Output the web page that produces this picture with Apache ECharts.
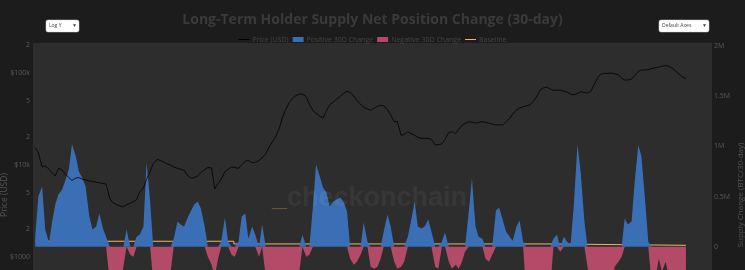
<!DOCTYPE html>
<html><head><meta charset="utf-8">
<script src="https://cdn.jsdelivr.net/npm/echarts@6/dist/echarts.min.js"></script>
<style>
html,body{margin:0;padding:0;background:#1c1c1c;width:745px;height:270px;overflow:hidden;}
#wrap{width:745px;height:270px;overflow:hidden;}
#chart{width:745px;height:380px;}
</style></head><body><div id="wrap"><div id="chart"></div></div>
<script>
// first half-month sample is 2017-12-01, then every 1st and 15th of the month
const startYear = 2017, startMonth = 12;
const priceUSD = [
15500,13500,9500,9800,9000,8200,7600,9200,8800,8000,
7300,6800,7200,7300,7000,6900,6700,6600,6500,6400,
6300,6200,4300,3900,3700,3600,3500,3700,3850,4000,
4200,5100,5600,7000,8500,10400,11500,11200,10800,10300,
10000,9500,9200,9000,8700,7700,7200,7300,7600,8300,
8900,9400,9300,5500,6300,7000,8500,9000,9500,9400,
9200,10000,11000,11200,10600,10700,11200,12000,13200,15500,
18000,20500,25000,33000,41000,48000,54000,57000,59000,59000,
55500,46000,39000,36500,34000,32200,39000,45000,48500,52000,
55500,60000,63500,61500,56000,50000,46000,42500,40500,39500,
41500,43500,44500,44000,40000,35000,29600,29600,21000,21500,
23000,22000,21000,20000,19500,19500,19500,19000,16500,16600,
17000,19000,22500,23000,22000,24500,27000,28300,29500,29200,
28500,29000,29600,29000,28500,27800,27300,27300,27300,29500,
32000,36000,39500,41500,43000,44000,45000,49000,56000,65000,
69000,70500,67000,65000,65000,65000,63500,62000,59000,58000,
60000,62500,61500,60500,64000,75000,90000,98000,99000,99000,
100000,98000,96000,88000,84000,84000,86000,94000,104000,108000,
108000,109000,112000,114000,116000,118000,121000,118000,112000,106000,
97000,91000,87000];
const supplyChangeM = [
0.1,0.5,0.6,0.17,0.04,0.25,0.42,0.52,0.57,0.66,
0.77,1.02,0.9,0.75,0.68,0.6,0.3,0.17,0.2,0.33,
0.18,0.1,-0.35,-0.5,-0.5,-0.4,-0.2,0.17,-0.08,-0.1,
0.1,0.12,0.2,0.84,0.45,-0.35,-0.55,-0.6,-0.55,-0.45,
-0.25,0.08,0.25,0.22,0.2,0.28,0.36,0.42,0.45,0.38,
0.2,-0.1,-0.18,-0.3,-0.12,0.05,0.29,0.05,-0.08,-0.1,
0.05,0.3,0.33,0.08,0.2,0.12,-0.1,0.22,-0.3,-0.5,
-0.6,-0.6,-0.55,-0.6,-0.5,-0.4,-0.5,-0.45,-0.25,0.12,
-0.1,-0.08,0.4,0.82,0.7,0.59,0.54,0.4,0.45,0.47,
0.49,0.45,0.35,-0.12,-0.18,-0.15,-0.08,0.24,0.05,-0.2,
-0.22,-0.2,-0.12,0.15,0.32,0.2,-0.15,-0.22,-0.2,-0.15,
0.1,0.25,0.45,0.2,0.18,0.2,0.27,0.15,-0.2,-0.22,
0.05,0.14,-0.15,-0.22,-0.18,-0.22,-0.15,-0.05,0.35,0.68,
0.2,0.1,0.08,-0.12,-0.15,-0.08,0.36,0.39,0.26,0.15,
0.1,0.06,0.2,0.26,0.05,-0.5,-0.6,-0.6,-0.55,-0.6,
-0.55,-0.5,-0.4,0.08,0.12,-0.05,0.1,0.05,0.02,0.4,
1.02,0.75,0.25,-0.2,-0.5,-0.6,-0.6,-0.55,-0.6,-0.4,
-0.5,-0.2,-0.15,-0.1,0.28,0.22,0.25,0.65,1.01,0.9,
0.45,0.05,-0.4,-0.35,-0.12,-0.25,-0.15,-0.3,-0.5,-0.45,
-0.5,-0.55,-0.5];
const baselineDates = ['2017-12-01','2020-05-11','2024-04-20','2025-12-01'];
const baselineM = [0.054,0.027,0.0135,0.0135];
const xRange = ['2017-11-21','2026-03-28'];
const priceTickValues = [1000,2000,5000,10000,20000,50000,100000,200000];
const priceTickLabels = ['$1000','2','5','$10k','2','5','$100k','2'];
const supplyTickValues = [0,0.5,1,1.5,2];
const supplyTickLabels = ['0','0.5M','1M','1.5M','2M'];
const seriesNames = ['Price (USD)','Positive 30D Change','Negative 30D Change','Baseline'];

const dates = [];
for (let k = 0; dates.length < priceUSD.length; k++) {
  const m = startMonth - 1 + Math.floor(k / 2);
  const y = startYear + Math.floor(m / 12);
  const mm = String(m % 12 + 1).padStart(2, '0');
  dates.push(y + '-' + mm + '-' + (k % 2 ? '15' : '01'));
}
const ts = d => Date.parse(d + 'T00:00:00Z');
function lookup(vals, labels, v) {
  for (let i = 0; i < vals.length; i++) if (Math.abs(vals[i] - v) <= Math.abs(vals[i]) * 1e-6 + 1e-9) return labels[i];
  return '';
}
const FONT = '"Open Sans", "Liberation Sans", sans-serif';
const LINE_ICON = 'path://M0,0L0.01,0M0,2.1H11V2.9H0ZM11,5L10.99,5';
const chart = echarts.init(document.getElementById('chart'), null, {renderer: 'canvas'});
chart.setOption({
  backgroundColor: '#1c1c1c',
  animation: false,
  title: {
    text: 'Long-Term Holder Supply Net Position Change (30-day)',
    left: 'center', top: 8,
    textStyle: {color: '#3a3a3a', fontSize: 14, fontWeight: 'bold', fontFamily: FONT}
  },
  legend: {
    top: 31, left: 'center', itemGap: 4, itemWidth: 11, itemHeight: 5,
    textStyle: {color: '#454545', fontSize: 7, fontFamily: FONT, padding: [0, 0, 0, -2]},
    data: [
      {name: seriesNames[0], icon: LINE_ICON, itemStyle: {color: '#000'}},
      {name: seriesNames[1], icon: 'rect'},
      {name: seriesNames[2], icon: 'rect'},
      {name: seriesNames[3], icon: LINE_ICON, itemStyle: {color: '#f2b56b'}}
    ]
  },
  grid: {left: 33, right: 33, top: 43, bottom: 33, show: true, backgroundColor: '#2d2d2d', borderWidth: 0,
         containLabel: false, outerBoundsMode: 'none'},
  xAxis: {type: 'value', min: ts(xRange[0]), max: ts(xRange[1]), show: false, scale: true},
  yAxis: [
    {type: 'log', logBase: 10, min: 105, max: 212000, position: 'left',
     axisLine: {show: false}, axisTick: {show: false}, splitLine: {show: false},
     axisLabel: {customValues: priceTickValues, formatter: v => lookup(priceTickValues, priceTickLabels, v),
       color: '#5a5a5a', fontSize: 7, margin: 3, fontFamily: FONT},
     name: 'Price (USD)', nameLocation: 'middle', nameGap: 24, nameMoveOverlap: false,
     nameTextStyle: {color: '#555', fontSize: 8.5, fontFamily: FONT}},
    {type: 'value', min: -1, max: 2.03, position: 'right',
     axisLine: {show: false}, axisTick: {show: false}, splitLine: {show: false},
     axisLabel: {customValues: supplyTickValues, formatter: v => lookup(supplyTickValues, supplyTickLabels, v),
       color: '#5a5a5a', fontSize: 7, margin: 2, fontFamily: FONT},
     name: 'Supply Change (BTC/30-day)', nameLocation: 'middle', nameGap: 25, nameRotate: 90, nameMoveOverlap: false,
     nameTextStyle: {color: '#555', fontSize: 8, fontFamily: FONT}}
  ],
  series: [
    {name: seriesNames[0], type: 'line', yAxisIndex: 0, showSymbol: false, symbol: 'none', z: 5,
     lineStyle: {color: '#000', width: 0.8}, itemStyle: {color: '#000'},
     data: dates.map((d, i) => [ts(d), priceUSD[i]])},
    {name: seriesNames[1], type: 'line', yAxisIndex: 1, symbol: 'none', z: 3,
     lineStyle: {width: 0}, itemStyle: {color: '#3b6fb5'}, areaStyle: {color: '#3b6fb5', opacity: 1},
     data: dates.map((d, i) => [ts(d), Math.max(supplyChangeM[i], 0)])},
    {name: seriesNames[2], type: 'line', yAxisIndex: 1, symbol: 'none', z: 3,
     lineStyle: {width: 0}, itemStyle: {color: '#b24a68'}, areaStyle: {color: '#b24a68', opacity: 1},
     data: dates.map((d, i) => [ts(d), Math.min(supplyChangeM[i], 0)])},
    {name: seriesNames[3], type: 'line', yAxisIndex: 1, symbol: 'none', step: 'end', z: 2,
     lineStyle: {color: '#f2b56b', width: 1}, itemStyle: {color: '#f2b56b'},
     data: baselineDates.map((d, i) => [ts(d), baselineM[i]])}
  ],
  graphic: [
    {type: 'text', left: 272, top: 185, z: 10, silent: true,
     style: {text: '{u|_}{t|checkonchain}', rich: {
       u: {fill: 'rgba(230,160,70,0.35)', font: 'bold 27px "Liberation Sans", sans-serif'},
       t: {fill: 'rgba(255,255,255,0.05)', font: 'bold 27px "Liberation Sans", sans-serif'}}}},
    {type: 'rect', shape: {x: 46, y: 20, width: 33, height: 12, r: 2}, style: {fill: '#ffffff', stroke: '#d0d0d0', lineWidth: 0.5}},
    {type: 'text', x: 49, y: 26, style: {text: 'Log Y', fill: '#444', font: '5px ' + FONT, textVerticalAlign: 'middle'}},
    {type: 'text', x: 72, y: 26, style: {text: '▼', fill: '#444', font: '5px ' + FONT, textVerticalAlign: 'middle'}},
    {type: 'rect', shape: {x: 659, y: 20, width: 50, height: 12, r: 2}, style: {fill: '#ffffff', stroke: '#d0d0d0', lineWidth: 0.5}},
    {type: 'text', x: 662, y: 26, style: {text: 'Default Axes', fill: '#444', font: '5px ' + FONT, textVerticalAlign: 'middle'}},
    {type: 'text', x: 702, y: 26, style: {text: '▼', fill: '#444', font: '5px ' + FONT, textVerticalAlign: 'middle'}}
  ]
});
</script></body></html>
